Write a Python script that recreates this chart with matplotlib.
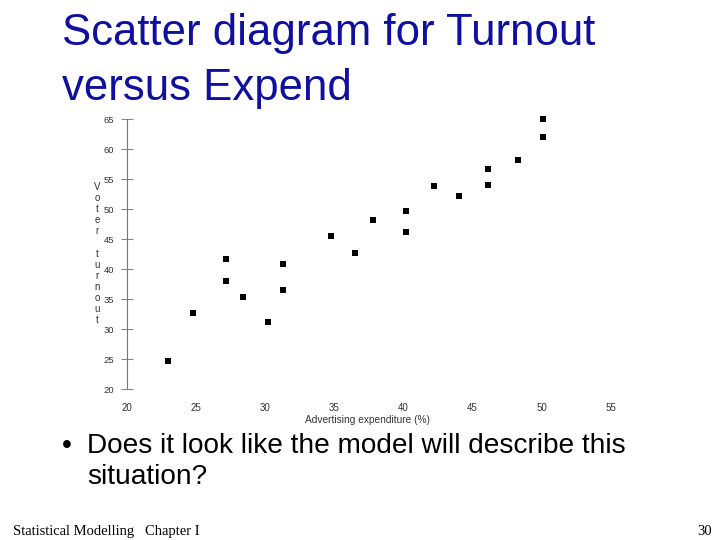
import matplotlib
matplotlib.use("Agg")
import matplotlib.pyplot as plt

# Data
expend = [23.0, 24.8, 27.2, 27.2, 28.4, 30.2, 31.3, 31.3, 34.8, 36.5,
          37.8, 40.2, 40.2, 42.2, 44.0, 46.1, 46.1, 48.3, 50.1, 50.1]
turnout = [24.7, 32.7, 41.8, 38.0, 35.4, 31.2, 40.9, 36.5, 45.6, 42.7,
           48.3, 49.7, 46.2, 53.9, 52.2, 56.7, 54.1, 58.2, 65.0, 62.0]
x_ticks = [20, 25, 30, 35, 40, 45, 50, 55]
y_ticks = [20, 25, 30, 35, 40, 45, 50, 55, 60, 65]

W, H = 720, 540
fig = plt.figure(figsize=(7.2, 5.4), dpi=100)
fig.patch.set_facecolor("white")

def fx(px):
    return px / W

def fy(py):
    return 1 - py / H

# Title
title_color = "#1010a0"
fig.text(fx(62), fy(45), "Scatter diagram for Turnout", color=title_color,
         fontsize=31.5, family="Liberation Sans", va="baseline", ha="left")
fig.text(fx(62), fy(100), "versus Expend", color=title_color,
         fontsize=31.5, family="Liberation Sans", va="baseline", ha="left")

# Scatter axes
ax = fig.add_axes([fx(126.7), fy(389.3), fx(610.7 - 126.7), (389.3 - 119.3) / H])
ax.scatter(expend, turnout, marker="s", s=14, color="black", linewidths=0,
           clip_on=False, zorder=3)
ax.set_xlim(20, 55)
ax.set_ylim(20, 65)
ax.set_xticks(x_ticks)
ax.set_yticks(y_ticks)
ax.set_xticklabels([str(v) for v in x_ticks])
ax.set_yticklabels([str(v) for v in y_ticks])
for s in ["top", "right", "bottom"]:
    ax.spines[s].set_visible(False)
ax.spines["left"].set_color("#777777")
ax.spines["left"].set_linewidth(0.8)
ax.tick_params(axis="y", direction="inout", length=8, width=0.8, color="#888888",
               labelsize=6.8, labelcolor="#333333", pad=5)
ax.tick_params(axis="x", length=0, labelsize=7.0, labelcolor="#333333", pad=10)
ax.set_facecolor("white")
ax.set_xlabel("Advertising expenditure (%)", fontsize=7.3, color="#333333",
              family="Liberation Sans")
ax.xaxis.set_label_coords((367 - 126.7) / (610.7 - 126.7), -(420 - 389.3) / 270)
ax.xaxis.label.set_va("center")
for lab in ax.get_xticklabels() + ax.get_yticklabels():
    lab.set_family("Liberation Sans")

# Vertical stacked y label
letters = ["V", "o", "t", "e", "r", "", "t", "u", "r", "n", "o", "u", "t"]
for i, ch in enumerate(letters):
    if ch:
        fig.text(fx(97), fy(187 + i * 11.1), ch, fontsize=7, color="#333333",
                 ha="center", va="center", family="Liberation Sans")

# Bullet text
fig.text(fx(67), fy(453), "\u2022", fontsize=20.2, family="Liberation Sans",
         ha="center", va="baseline", color="black")
fig.text(fx(87), fy(453), "Does it look like the model will describe this",
         fontsize=20.2, family="Liberation Sans", ha="left", va="baseline", color="black")
fig.text(fx(87), fy(484), "situation?",
         fontsize=20.2, family="Liberation Sans", ha="left", va="baseline", color="black")

# Footer
fig.text(fx(13), fy(535), "Statistical Modelling   Chapter I", fontsize=10.5,
         family="Liberation Serif", ha="left", va="baseline", color="black")
fig.text(fx(712), fy(535), "30", fontsize=10.5,
         family="Liberation Serif", ha="right", va="baseline", color="black")

fig.savefig("out.png", dpi=100, facecolor="white")
